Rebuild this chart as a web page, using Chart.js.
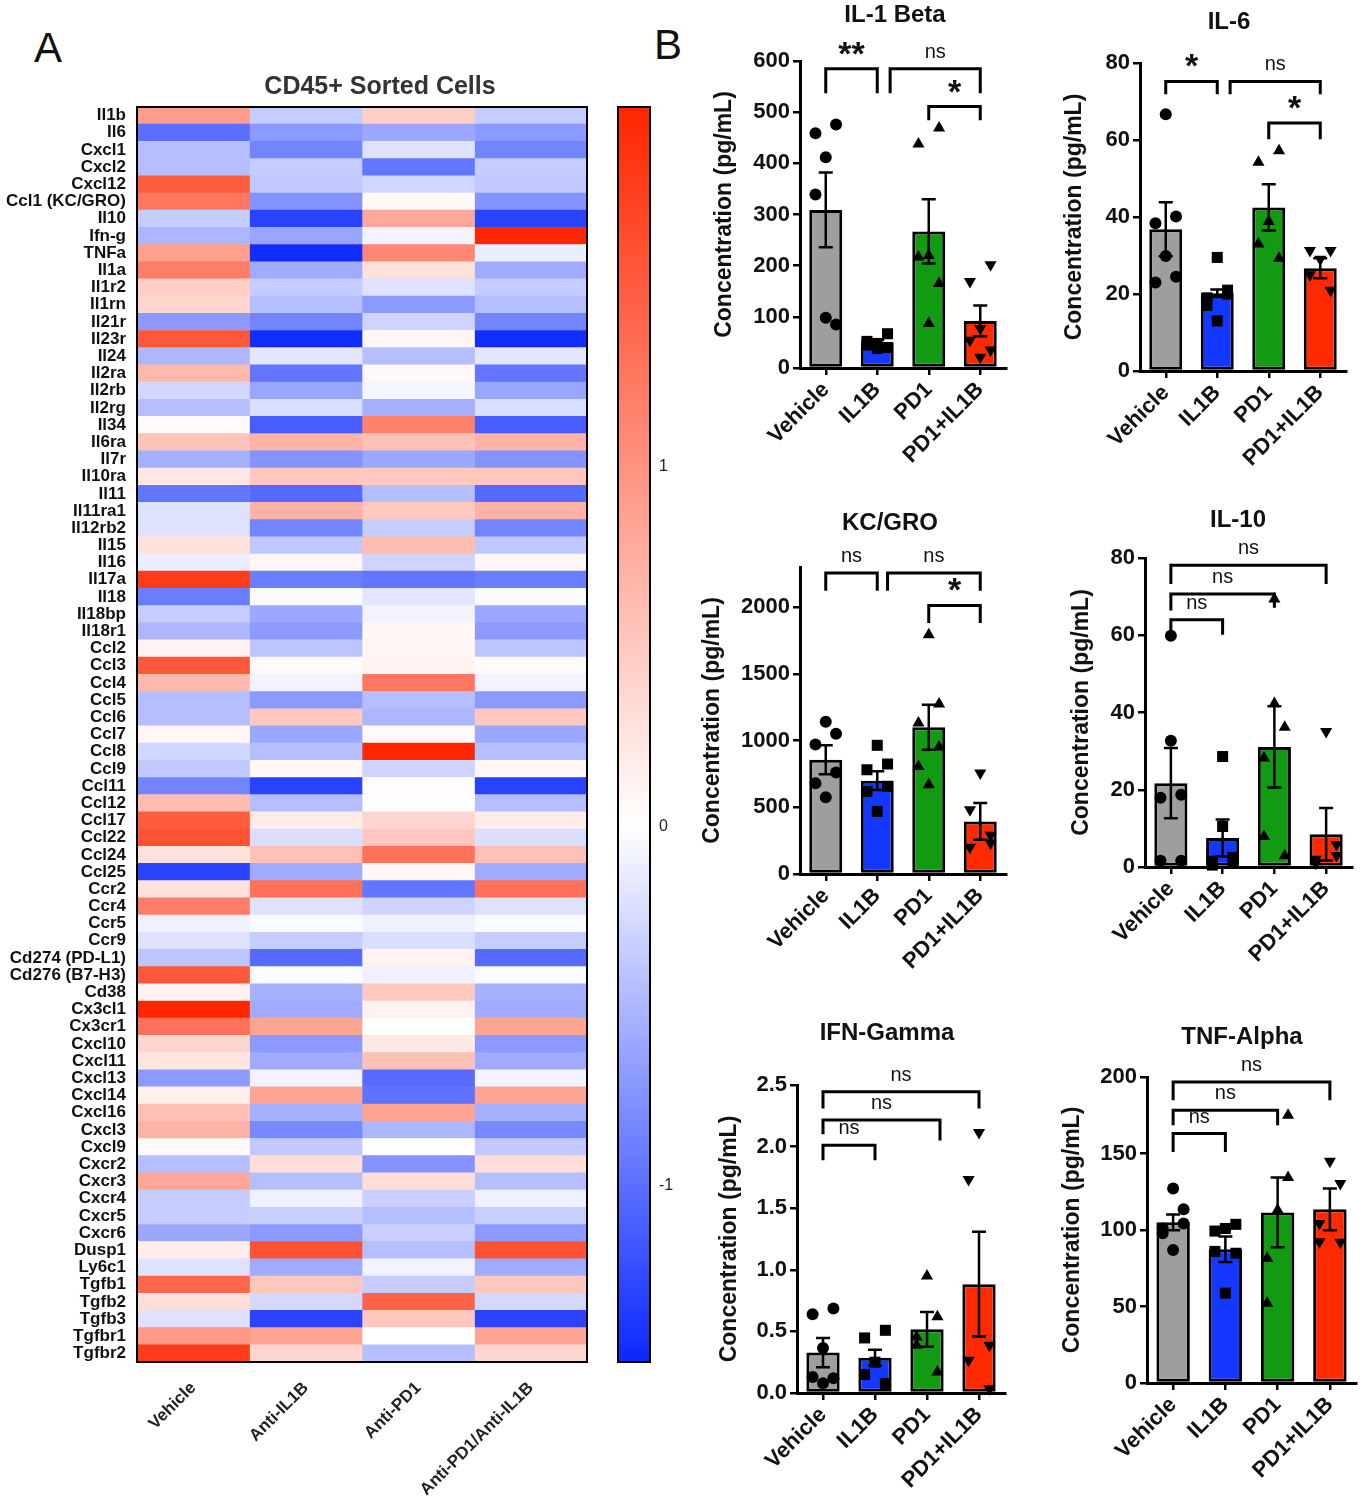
<!DOCTYPE html>
<html>
<head>
<meta charset="utf-8">
<script src="https://cdn.jsdelivr.net/npm/chart.js@4.4.1/dist/chart.umd.min.js"></script>
<style>
  body { margin: 0; background: #fff; }
  #page { position: relative; width: 1360px; height: 1500px; overflow: hidden; background: #fff;
          font-family: "Liberation Sans", Arial, Helvetica, sans-serif; }
  #page canvas { position: absolute; }
  .panel { position: absolute; font-size: 42px; line-height: 1; color: #111; }
</style>
</head>
<body>
<div id="page">
  <div class="panel" style="left:34px;top:27px">A</div>
  <div class="panel" style="left:654px;top:24px">B</div>
</div>
<script>
// ---- panel A: heatmap (z-scores) ----
const genes = ['Il1b', 'Il6', 'Cxcl1', 'Cxcl2', 'Cxcl12', 'Ccl1 (KC/GRO)', 'Il10', 'Ifn-g', 'TNFa', 'Il1a',
  'Il1r2', 'Il1rn', 'Il21r', 'Il23r', 'Il24', 'Il2ra', 'Il2rb', 'Il2rg', 'Il34', 'Il6ra',
  'Il7r', 'Il10ra', 'Il11', 'Il11ra1', 'Il12rb2', 'Il15', 'Il16', 'Il17a', 'Il18', 'Il18bp',
  'Il18r1', 'Ccl2', 'Ccl3', 'Ccl4', 'Ccl5', 'Ccl6', 'Ccl7', 'Ccl8', 'Ccl9', 'Ccl11',
  'Ccl12', 'Ccl17', 'Ccl22', 'Ccl24', 'Ccl25', 'Ccr2', 'Ccr4', 'Ccr5', 'Ccr9', 'Cd274 (PD-L1)',
  'Cd276 (B7-H3)', 'Cd38', 'Cx3cl1', 'Cx3cr1', 'Cxcl10', 'Cxcl11', 'Cxcl13', 'Cxcl14', 'Cxcl16', 'Cxcl3',
  'Cxcl9', 'Cxcr2', 'Cxcr3', 'Cxcr4', 'Cxcr5', 'Cxcr6', 'Dusp1', 'Ly6c1', 'Tgfb1', 'Tgfb2',
  'Tgfb3', 'Tgfbr1', 'Tgfbr2'];
const heatGroups = ['Vehicle', 'Anti-IL1B', 'Anti-PD1', 'Anti-PD1/Anti-IL1B'];

const vehicleZ = [0.9, -1.0, -0.45, -0.45, 1.5, 1.25, -0.35, -0.5, 0.88, 1.2,
  0.45, 0.38, -0.7, 1.55, -0.5, 0.65, -0.28, -0.45, 0.05, 0.55,
  -0.55, 0.22, -0.95, -0.2, -0.2, 0.28, -0.12, 1.8, -0.9, -0.35,
  -0.5, 0.12, 1.55, 0.65, -0.45, -0.45, 0.08, -0.28, -0.38, -0.85,
  0.62, 1.5, 1.6, 0.27, -1.3, 0.27, 1.2, -0.1, -0.2, -0.4,
  1.55, 0.12, 2.0, 1.3, 0.38, 0.24, -0.7, 0.14, 0.57, 0.7,
  0.05, -0.45, 0.8, -0.35, -0.35, -0.6, 0.16, -0.2, 1.4, 0.3,
  -0.2, 0.95, 1.8];
const antiIl1bZ = [-0.35, -0.7, -0.85, -0.35, -0.38, -0.75, -1.3, -0.62, -1.45, -0.58,
  -0.35, -0.45, -0.85, -1.45, -0.17, -0.95, -0.62, -0.22, -1.12, 0.7,
  -0.75, 0.52, -1.03, 0.7, -0.85, -0.38, 0.08, -0.9, -0.03, -0.6,
  -0.7, -0.4, 0.05, -0.08, -0.7, 0.5, -0.6, -0.45, 0.06, -1.3,
  -0.45, 0.18, -0.22, 0.57, -0.58, 1.3, -0.2, -0.03, -0.35, -1.03,
  -0.03, -0.55, -0.58, 0.85, -0.7, -0.58, -0.08, 0.85, -0.55, -0.82,
  -0.38, 0.3, -0.45, -0.1, -0.33, -0.7, 1.6, -0.58, 0.52, -0.27,
  -1.3, 0.85, 0.38];
const antiPd1Z = [0.45, -0.6, -0.2, -0.95, -0.28, 0.06, 0.8, -0.08, 1.1, 0.28,
  -0.2, -0.7, -0.3, 0.08, -0.45, 0.06, -0.06, -0.55, 1.15, 0.57,
  -0.6, 0.5, -0.45, 0.5, -0.35, 0.62, -0.3, -0.95, -0.17, -0.08,
  0.07, 0.08, 0.1, 1.25, -0.45, -0.5, 0.04, 2.0, -0.3, 0.03,
  0.0, 0.38, 0.52, 1.3, 0.06, -0.95, -0.3, -0.1, -0.22, 0.12,
  -0.1, 0.5, 0.12, 0.0, 0.2, 0.57, -1.03, -0.98, 0.85, -0.5,
  0.0, -0.75, 0.3, -0.33, -0.45, -0.33, -0.45, -0.08, -0.35, 1.45,
  0.52, 0.0, -0.45];
const comboZ = [-0.35, -0.7, -0.85, -0.35, -0.38, -0.75, -1.3, 2.0, -0.12, -0.58,
  -0.35, -0.45, -0.85, -1.45, -0.17, -0.95, -0.62, -0.22, -1.12, 0.7,
  -0.75, 0.52, -1.03, 0.7, -0.85, -0.38, 0.08, -0.9, -0.03, -0.6,
  -0.7, -0.4, 0.05, -0.08, -0.7, 0.5, -0.6, -0.45, 0.06, -1.3,
  -0.45, 0.18, -0.22, 0.57, -0.58, 1.3, -0.2, -0.03, -0.35, -1.03,
  -0.03, -0.55, -0.58, 0.85, -0.7, -0.58, -0.08, 0.85, -0.55, -0.82,
  -0.38, 0.3, -0.45, -0.1, -0.33, -0.7, 1.6, -0.58, 0.52, -0.27,
  -1.3, 0.85, 0.38];
const heatColumns = [vehicleZ, antiIl1bZ, antiPd1Z, comboZ];
const zMin = -1.49;
const zMax = 2.0;
const colorbarTicks = [-1, 0, 1];

// ---- panel B: Luminex bar charts (mean, SEM, individual animals) ----
const groups = ['Vehicle', 'IL1B', 'PD1', 'PD1+IL1B'];

const il1bMean = [309, 49, 267, 92];
const il1bSem = [73, 6, 63, 30];
const il1bPoints = [[459, 476, 412, 339, 85, 98], [52, 67, 48, 45, 40, 38], [438, 469, 220, 217, 165, 87], [169, 202, 77, 54, 35, 21]];
const il1bTicks = [0, 100, 200, 300, 400, 500, 600];
const il1bBrackets = [[0, 1, 585, 537, 537, '**'], [1.25, 3, 585, 537, 537, 'ns'], [2, 3, 511, 484, 484, '*']];

const il6Mean = [36.8, 20.2, 42.5, 26.7];
const il6Sem = [7, 1, 6, 2.6];
const il6Points = [[38.4, 40.1, 66.7, 23, 24.5, 29.9], [19, 21, 29.5, 17, 20, 13], [54.2, 57.2, 38.8, 33, 29.3], [31.3, 31.3, 29, 25, 21]];
const il6Ticks = [0, 20, 40, 60, 80];
const il6Brackets = [[0, 1, 75.2, 71.9, 71.9, '*'], [1.25, 3, 75.2, 71.9, 71.9, 'ns'], [2, 3, 64.4, 60.2, 60.2, '*']];

const kcMean = [856, 699, 1099, 394];
const kcSem = [108, 70, 169, 138];
const kcPoints = [[970, 1050, 1140, 680, 760, 575], [781, 824, 964, 619, 657, 469], [1131, 1273, 1793, 806, 951, 669], [200, 232, 757, 482, 290]];
const kcTicks = [0, 500, 1000, 1500, 2000];
const kcBrackets = [[0, 1, 2255, 2122, 2122, 'ns'], [1.2, 3, 2255, 2122, 2122, 'ns'], [2, 3, 2012, 1880, 1880, '*']];

const il10Mean = [21.7, 7.5, 31.1, 8.5];
const il10Sem = [9.1, 4.8, 10.5, 6.8];
const il10Points = [[17.9, 18.7, 59.9, 1.6, 1.6, 32.7], [1.5, 1, 28.6, 0.5, 2.5, 10.5], [28.2, 36.2, 69.4, 7.9, 2.9, 42.3], [2, 5.8, 35.1, 1, 3]];
const il10Ticks = [0, 20, 40, 60, 80];
const il10Brackets = [[0, 1, 64, 61, 60.1, 'ns'], [0, 2, 70.7, 66.4, 67.1, 'ns'], [0, 3, 78.1, 73.3, 73.3, 'ns']];

const ifnMean = [0.328, 0.287, 0.517, 0.883];
const ifnSem = [0.118, 0.065, 0.141, 0.425];
const ifnPoints = [[0.64, 0.685, 0.366, 0.13, 0.12, 0.08], [0.447, 0.509, 0.25, 0.15, 0.076], [0.387, 0.618, 0.95, 0.455, 0.17], [0.265, 0.387, 2.115, 1.733, 0.035]];
const ifnTicks = [0, 0.5, 1, 1.5, 2, 2.5];
const ifnBrackets = [[0, 1, 2.01, 1.89, 1.89, 'ns'], [0, 2.25, 2.215, 2.1, 2.05, 'ns'], [0, 3, 2.445, 2.31, 2.31, 'ns']];

const tnfMean = [105, 87.4, 111.5, 113.5];
const tnfSem = [5.2, 8.3, 22.8, 13.7];
const tnfPoints = [[97.8, 113.5, 127.2, 101, 104.3, 87], [99.3, 103.7, 101, 86, 84.8, 58.7], [81.5, 175, 113, 52.2, 134.3], [92.4, 92, 145, 104.3, 130.4]];
const tnfTicks = [0, 50, 100, 150, 200];
const tnfBrackets = [[0, 1, 163, 151, 151, 'ns'], [0, 2, 178.3, 168.5, 168.5, 'ns'], [0, 3, 196.7, 184.8, 184.8, 'ns']];

const FONT = '"Liberation Sans", Arial, Helvetica, sans-serif';
Chart.defaults.font.family = FONT;
Chart.defaults.color = '#111';
Chart.defaults.animation = false;
Chart.defaults.plugins.legend.display = false;
Chart.defaults.plugins.tooltip.enabled = false;

const groupColors = ['#9e9e9e', '#1438ff', '#129a12', '#ff2a00'];
const markers = ['circle', 'rect', 'triangle', 'triangle'];
const markerSize = [6, 7.8, 7, 7];
const jitter = [-0.2, 0.2, 0];

function zColor(v) {
  const end = v >= 0 ? [255, 38, 0] : [10, 40, 255];
  const t = Math.min(1, v >= 0 ? v / zMax : v / zMin);
  return 'rgb(' + end.map(e => Math.round(255 + (e - 255) * t)).join(',') + ')';
}

function place(left, top, width, height) {
  const c = document.createElement('canvas');
  c.width = width;
  c.height = height;
  c.style.left = left + 'px';
  c.style.top = top + 'px';
  document.getElementById('page').appendChild(c);
  return c;
}

// error bars, significance brackets, frames and titles
function decor(cfg) {
  return {
    id: 'decor',
    afterDatasetsDraw(chart) {
      const { ctx, chartArea: a } = chart;
      const x = chart.scales.x, y = chart.scales.y;
      ctx.save();
      ctx.strokeStyle = '#000';
      ctx.fillStyle = '#111';
      if (cfg.frame) {
        ctx.lineWidth = 2;
        ctx.strokeRect(a.left, a.top, a.right - a.left, a.bottom - a.top);
      }
      if (cfg.mean) {
        ctx.lineWidth = 2.5;
        cfg.mean.forEach((m, i) => {
          const px = x.getPixelForValue(i);
          const hi = y.getPixelForValue(m + cfg.sem[i]);
          const lo = y.getPixelForValue(m - cfg.sem[i]);
          ctx.beginPath();
          ctx.moveTo(px, hi); ctx.lineTo(px, lo);
          ctx.moveTo(px - 7, hi); ctx.lineTo(px + 7, hi);
          ctx.moveTo(px - 7, lo); ctx.lineTo(px + 7, lo);
          ctx.stroke();
        });
      }
      if (cfg.brackets) {
        ctx.lineWidth = 3;
        ctx.textAlign = 'center';
        ctx.textBaseline = 'alphabetic';
        cfg.brackets.forEach(([from, to, level, legL, legR, label]) => {
          const x1 = x.getPixelForValue(from), x2 = x.getPixelForValue(to);
          const yt = y.getPixelForValue(level);
          ctx.beginPath();
          ctx.moveTo(x1, y.getPixelForValue(legL));
          ctx.lineTo(x1, yt);
          ctx.lineTo(x2, yt);
          ctx.lineTo(x2, y.getPixelForValue(legR));
          ctx.stroke();
          const star = label !== 'ns';
          ctx.font = star ? 'bold 34px ' + FONT : '20px ' + FONT;
          ctx.fillText(label, (x1 + x2) / 2, star ? yt - 4 : yt - 11);
        });
      }
      if (cfg.title) {
        ctx.font = cfg.title.style;
        ctx.fillStyle = cfg.title.color || '#111';
        ctx.textAlign = 'center';
        ctx.textBaseline = 'middle';
        ctx.fillText(cfg.title.text, cfg.title.x, cfg.title.y);
      }
      ctx.restore();
    }
  };
}

// ---------- heatmap ----------
const heatLeft = 0, heatTop = 60;
new Chart(place(heatLeft, heatTop, 600, 1440), {
  type: 'bar',
  data: {
    labels: genes,
    datasets: heatColumns.map((col, c) => ({
      label: heatGroups[c],
      data: col.map(() => [c, c + 1]),
      backgroundColor: col.map(zColor),
      borderWidth: 0,
      grouped: false,
      barPercentage: 1,
      categoryPercentage: 1
    }))
  },
  options: {
    responsive: false,
    indexAxis: 'y',
    layout: { padding: { top: 47, right: 13 } },
    scales: {
      x: {
        type: 'linear', min: 0, max: 4,
        afterBuildTicks: s => { s.ticks = heatGroups.map((g, i) => ({ value: i + 0.5 })); },
        afterFit: s => { s.height = 138; },
        ticks: {
          callback: (v, i) => heatGroups[i],
          minRotation: 45, maxRotation: 45, padding: 8,
          font: { size: 17, weight: 'bold' }, color: '#222'
        },
        grid: { display: false },
        border: { display: false }
      },
      y: {
        afterFit: s => { s.width = 137; },
        ticks: { autoSkip: false, padding: 3, font: { size: 17, weight: 'bold' }, color: '#111' },
        grid: { display: false },
        border: { display: false }
      }
    }
  },
  plugins: [decor({ frame: true, title: { text: 'CD45+ Sorted Cells', x: 380 - heatLeft, y: 87 - heatTop, style: 'bold 25px ' + FONT, color: '#333' } })]
});

// ---------- colour bar ----------
new Chart(place(590, 60, 100, 1360), {
  type: 'bar',
  data: {
    labels: [''],
    datasets: [{
      data: [[zMin, zMax]],
      barPercentage: 1,
      categoryPercentage: 1,
      borderWidth: 0,
      backgroundColor: c => {
        const { ctx, chartArea, scales } = c.chart;
        if (!chartArea) return '#fff';
        const g = ctx.createLinearGradient(0, scales.y.getPixelForValue(zMax), 0, scales.y.getPixelForValue(zMin));
        g.addColorStop(0, zColor(zMax));
        g.addColorStop(zMax / (zMax - zMin), '#ffffff');
        g.addColorStop(1, zColor(zMin));
        return g;
      }
    }]
  },
  options: {
    responsive: false,
    layout: { padding: { left: 28, top: 47, bottom: 58 } },
    scales: {
      x: { display: false },
      y: {
        position: 'right', min: zMin, max: zMax, z: 1,
        afterBuildTicks: s => { s.ticks = colorbarTicks.map(v => ({ value: v })); },
        afterFit: s => { s.width = 40; },
        ticks: { padding: 9, font: { size: 16 }, color: '#222', callback: v => v },
        grid: { drawTicks: false, color: '#000', lineWidth: 1.5 },
        border: { display: false, dash: [5, 22] }
      }
    }
  },
  plugins: [decor({ frame: true })]
});

// ---------- bar charts ----------
const panels = [
  { title: 'IL-1 Beta', max: 600, ticks: il1bTicks, digits: 0, mean: il1bMean, sem: il1bSem, points: il1bPoints, brackets: il1bBrackets,
    area: [800, 61, 1006, 368], titleAt: [895, 15], yTitleX: 725 },
  { title: 'IL-6', max: 80, ticks: il6Ticks, digits: 0, mean: il6Mean, sem: il6Sem, points: il6Points, brackets: il6Brackets,
    area: [1140, 63, 1346, 371], titleAt: [1229, 22], yTitleX: 1075 },
  { title: 'KC/GRO', max: 2300, ticks: kcTicks, digits: 0, mean: kcMean, sem: kcSem, points: kcPoints, brackets: kcBrackets,
    area: [800, 567, 1006, 874], titleAt: [890, 523], yTitleX: 713 },
  { title: 'IL-10', max: 80, ticks: il10Ticks, digits: 0, mean: il10Mean, sem: il10Sem, points: il10Points, brackets: il10Brackets,
    area: [1145, 558, 1352, 867], titleAt: [1238, 520], yTitleX: 1082 },
  { title: 'IFN-Gamma', max: 2.5, ticks: ifnTicks, digits: 1, mean: ifnMean, sem: ifnSem, points: ifnPoints, brackets: ifnBrackets,
    area: [797, 1085, 1005, 1393], titleAt: [887, 1033], yTitleX: 730 },
  { title: 'TNF-Alpha', max: 200, ticks: tnfTicks, digits: 0, mean: tnfMean, sem: tnfSem, points: tnfPoints, brackets: tnfBrackets,
    area: [1147, 1077, 1356, 1383], titleAt: [1242, 1037], yTitleX: 1073 }
];

panels.forEach(p => {
  const [aL, aT, aR, aB] = p.area;
  const left = aL - 110, top = aT - 75;
  const width = aR - left + 14, height = aB - top + 125;
  new Chart(place(left, top, width, height), {
    type: 'bar',
    data: {
      labels: groups,
      datasets: [
        {
          type: 'bar', data: p.mean, backgroundColor: groupColors,
          borderColor: '#000', borderWidth: 3, borderSkipped: false, grouped: false,
          barPercentage: 0.64, categoryPercentage: 1, order: 2
        },
        ...p.points.map((vals, g) => ({
          type: 'scatter', xAxisID: 'xp', order: 1, clip: false,
          data: vals.map((v, k) => ({ x: g + jitter[k % 3], y: v })),
          pointStyle: markers[g], pointRotation: g === 3 ? 180 : 0,
          pointRadius: markerSize[g], backgroundColor: '#000', borderWidth: 0
        }))
      ]
    },
    options: {
      responsive: false,
      layout: { padding: { top: 75, right: 14 } },
      scales: {
        x: {
          afterFit: s => { s.height = 125; },
          grid: { offset: false, drawOnChartArea: false, color: '#000', lineWidth: 2.5, tickLength: 7 },
          border: { color: '#000', width: 3 },
          ticks: { minRotation: 45, maxRotation: 45, padding: 2, font: { size: 22, weight: 'bold' }, color: '#111' }
        },
        xp: { type: 'linear', display: false, offset: false, grid: { offset: false }, min: -0.5, max: 3.5 },
        y: {
          min: 0, max: p.max,
          afterBuildTicks: s => { s.ticks = p.ticks.map(v => ({ value: v })); },
          afterFit: s => { s.width = 110; },
          ticks: { padding: 3, font: { size: 22, weight: 'bold' }, color: '#111',
                   callback: v => v.toFixed(p.digits) },
          grid: { drawOnChartArea: false, color: '#000', lineWidth: 2.5, tickLength: 7 },
          border: { color: '#000', width: 3 },
          title: { display: true, text: 'Concentration (pg/mL)', color: '#111',
                   font: { size: 23, weight: 'bold' }, padding: { top: p.yTitleX - left - 13.8, bottom: 0 } }
        }
      }
    },
    plugins: [decor({ mean: p.mean, sem: p.sem, brackets: p.brackets,
      title: { text: p.title, x: p.titleAt[0] - left, y: p.titleAt[1] - top, style: 'bold 24px ' + FONT } })]
  });
});
</script>
</body>
</html>
